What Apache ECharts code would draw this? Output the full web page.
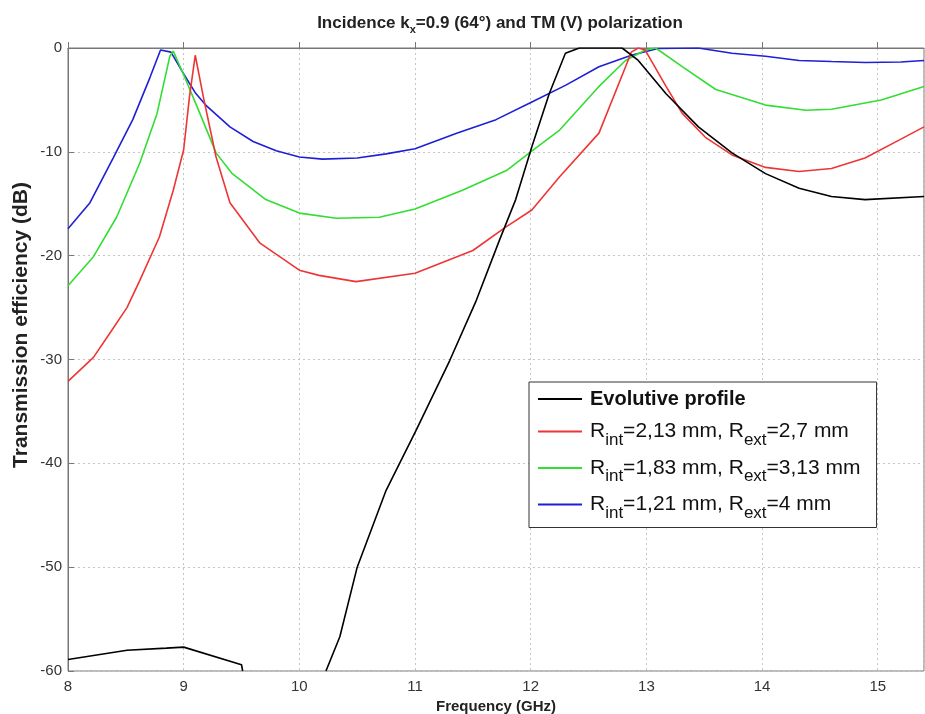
<!DOCTYPE html>
<html>
<head>
<meta charset="utf-8">
<script src="https://cdn.jsdelivr.net/npm/echarts@6/dist/echarts.min.js"></script>
<style>
  html, body { margin: 0; padding: 0; background: #fff; }
  #chart { width: 925px; height: 714px; }
</style>
</head>
<body>
<div id="chart"></div>
<script>
// 数据 (GHz / dB)
const seriesNames = ["Evolutive profile", "Rint=2,13 mm, Rext=2,7 mm", "Rint=1,83 mm, Rext=3,13 mm", "Rint=1,21 mm, Rext=4 mm"];

const blackFreq = [8.0, 8.51, 8.85, 9.0, 9.5, 9.51, 9.8, 10.23, 10.35, 10.5, 10.75, 11.01, 11.3, 11.53, 11.73, 11.87, 12.01, 12.16, 12.3, 12.42, 12.79, 12.93, 13.17, 13.45, 13.74, 14.03, 14.32, 14.6, 14.89, 15.4];
const blackDb = [-58.9, -58.0, -57.8, -57.7, -59.4, -60, null, -60, -56.7, -50, -42.6, -36.8, -30.1, -24.3, -18.5, -14.6, -9.5, -4.4, -0.5, 0, 0, -1.2, -4.4, -7.6, -10.1, -12.1, -13.5, -14.3, -14.6, -14.3];

const redFreq = [8.0, 8.22, 8.36, 8.51, 8.62, 8.79, 8.91, 9.0, 9.05, 9.1, 9.17, 9.28, 9.4, 9.66, 10.0, 10.17, 10.49, 11.0, 11.5, 11.79, 12.01, 12.25, 12.59, 12.82, 12.87, 12.93, 12.99, 13.17, 13.31, 13.51, 13.74, 14.03, 14.32, 14.6, 14.89, 15.18, 15.4];
const redDb = [-32.1, -29.8, -27.5, -25.0, -22.4, -18.2, -13.7, -9.8, -4.7, -0.7, -4.7, -10.5, -14.9, -18.8, -21.4, -21.9, -22.5, -21.7, -19.5, -17.2, -15.6, -12.4, -8.2, -1.8, -0.4, 0, -0.2, -3.7, -6.3, -8.6, -10.3, -11.5, -11.9, -11.6, -10.6, -8.9, -7.6];

const greenFreq = [8.0, 8.22, 8.42, 8.62, 8.77, 8.88, 8.91, 9.02, 9.14, 9.28, 9.42, 9.71, 10.0, 10.32, 10.69, 11.0, 11.41, 11.79, 12.0, 12.25, 12.59, 12.82, 12.99, 13.08, 13.31, 13.6, 14.03, 14.38, 14.6, 15.03, 15.4];
const greenDb = [-22.9, -20.1, -16.3, -11.1, -6.3, -0.8, -0.3, -3.1, -6.3, -10.1, -12.1, -14.6, -15.9, -16.4, -16.3, -15.5, -13.7, -11.8, -10.0, -7.9, -3.7, -1.2, -0.2, 0, -1.8, -4.0, -5.5, -6.0, -5.9, -5.0, -3.7];

const blueFreq = [8.0, 8.19, 8.39, 8.56, 8.71, 8.8, 8.89, 9.0, 9.1, 9.2, 9.4, 9.6, 9.8, 10.0, 10.2, 10.5, 10.75, 11.0, 11.36, 11.7, 12.01, 12.3, 12.59, 12.87, 13.1, 13.45, 13.74, 14.03, 14.32, 14.6, 14.89, 15.2, 15.4];
const blueDb = [-17.4, -14.9, -10.6, -6.9, -2.8, -0.2, -0.4, -2.5, -4.3, -5.6, -7.6, -9.0, -9.9, -10.5, -10.7, -10.6, -10.2, -9.7, -8.2, -6.9, -5.2, -3.6, -1.8, -0.7, -0.05, 0, -0.5, -0.8, -1.2, -1.3, -1.4, -1.35, -1.2];

// 图例文字 (带下标)
const legendRich = {
  "Evolutive profile": "{b|Evolutive profile}",
  "Rint=2,13 mm, Rext=2,7 mm": "{n|R}{s|int}{n|=2,13 mm, R}{s|ext}{n|=2,7 mm}",
  "Rint=1,83 mm, Rext=3,13 mm": "{n|R}{s|int}{n|=1,83 mm, R}{s|ext}{n|=3,13 mm}",
  "Rint=1,21 mm, Rext=4 mm": "{n|R}{s|int}{n|=1,21 mm, R}{s|ext}{n|=4 mm}"
};

const colors = ["#000000", "#ee3535", "#33dd33", "#1f1fd6"];

const zip = (xs, ys) => xs.map((x, i) => [x, ys[i]]);

const chart = echarts.init(document.getElementById("chart"));

const option = {
  backgroundColor: "#fff",
  animation: false,
  title: {
    text: "{a|Incidence k}{s|x}{a|=0.9 (64°) and TM (V) polarization}",
    left: 495,
    top: 6,
    textAlign: "center",
    textStyle: {
      rich: {
        a: { fontFamily: "Liberation Sans", fontWeight: "bold", fontSize: 17, color: "#222", lineHeight: 24 },
        s: { fontFamily: "Liberation Sans", fontWeight: "bold", fontSize: 11, color: "#222", lineHeight: 24, verticalAlign: "bottom" }
      }
    }
  },
  grid: {
    left: 68,
    right: 1,
    top: 48,
    bottom: 43,
    outerBoundsMode: "none",
    containLabel: false,
    show: true,
    borderColor: "#777",
    borderWidth: 1
  },
  legend: {
    orient: "vertical",
    left: 529,
    top: 382,
    padding: [4, 16, 6, 9],
    itemGap: 9,
    itemWidth: 44,
    itemHeight: 2,
    icon: "rect",
    backgroundColor: "#fff",
    borderColor: "#333",
    borderWidth: 1,
    data: seriesNames,
    formatter: (name) => legendRich[name],
    textStyle: {
      padding: [0, 0, 0, 3],
      rich: {
        b: { fontFamily: "Liberation Sans", fontWeight: "bold", fontSize: 20, color: "#111", lineHeight: 30, padding: [3, 0, 3, 0] },
        n: { fontFamily: "Liberation Sans", fontSize: 21, color: "#111", lineHeight: 34 },
        s: { fontFamily: "Liberation Sans", fontSize: 17, color: "#111", lineHeight: 34, verticalAlign: "bottom" }
      }
    }
  },
  xAxis: {
    type: "value",
    min: 8,
    max: 15.4,
    interval: 1,
    name: "Frequency (GHz)",
    nameLocation: "middle",
    nameGap: 25,
    nameTextStyle: { fontFamily: "Liberation Sans", fontWeight: "bold", fontSize: 15, color: "#222" },
    axisLine: { lineStyle: { color: "#777" } },
    axisTick: { inside: true, length: 6, lineStyle: { color: "#777" } },
    axisLabel: { fontFamily: "Liberation Sans", fontSize: 15, color: "#333", margin: 8, showMaxLabel: false },
    splitLine: { show: true, lineStyle: { color: "#c4c4c4", type: [2, 3] } }
  },
  yAxis: {
    type: "value",
    min: -60,
    max: 0,
    interval: 10,
    axisLine: { show: true, lineStyle: { color: "#777" } },
    axisTick: { show: true, inside: true, length: 6, lineStyle: { color: "#777" } },
    axisLabel: { fontFamily: "Liberation Sans", fontSize: 15, color: "#333", margin: 6 },
    splitLine: { show: true, lineStyle: { color: "#c4c4c4", type: [2, 3] } }
  },
  graphic: [
    {
      type: "text",
      x: 21,
      y: 325,
      rotation: Math.PI / 2,
      style: {
        text: "Transmission efficiency (dB)",
        fontFamily: "Liberation Sans",
        fontWeight: "bold",
        fontSize: 21,
        fill: "#222",
        align: "center",
        verticalAlign: "middle"
      }
    }
  ],
  series: [
    { name: seriesNames[0], data: zip(blackFreq, blackDb) },
    { name: seriesNames[1], data: zip(redFreq, redDb) },
    { name: seriesNames[2], data: zip(greenFreq, greenDb) },
    { name: seriesNames[3], data: zip(blueFreq, blueDb) }
  ].map((s, i) => ({
    ...s,
    type: "line",
    symbol: "none",
    connectNulls: false,
    clip: true,
    color: colors[i],
    lineStyle: { color: colors[i], width: 1.6 },
    z: 10 - i
  }))
};

chart.setOption(option);
</script>
</body>
</html>
